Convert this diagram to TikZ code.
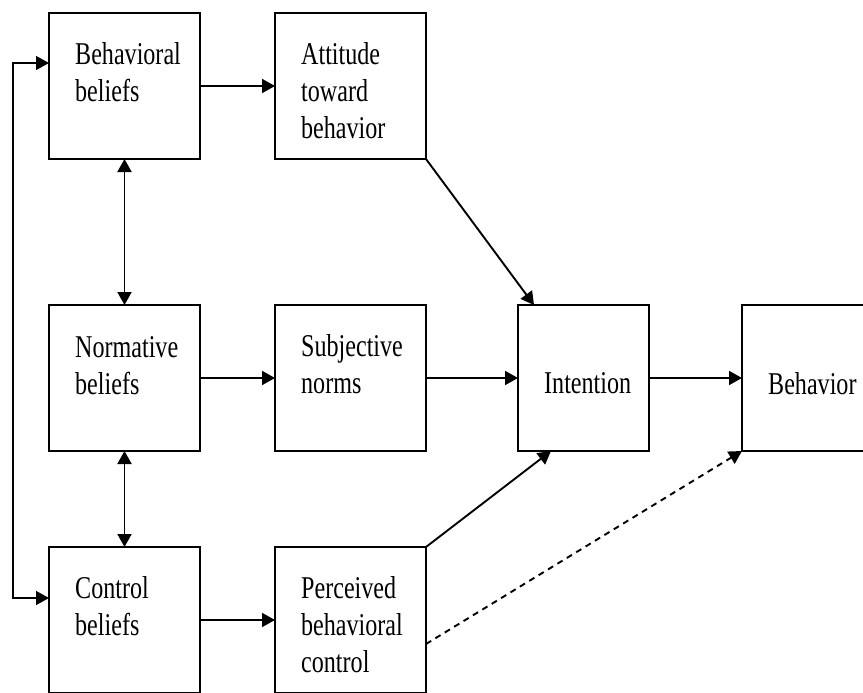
\documentclass[tikz,border=0pt]{standalone}
\usepackage{fontspec}
\usetikzlibrary{arrows.meta,positioning}
\newfontfamily\tpbfont[FakeStretch=0.76]{Liberation Serif}

\tikzset{
  tpbbox/.style={draw,line width=1.9pt,minimum width=151pt,minimum height=146pt,inner sep=0pt,outer sep=0pt},
  tpbtext/.style={anchor=north west,align=left,inner sep=0pt,font=\tpbfont\fontsize{31.7}{37}\selectfont},
  tpbarrow/.style={line width=1.9pt,-{Triangle[length=13pt,width=14pt]}},
  tpbboth/.style={line width=1.9pt,{Triangle[length=13pt,width=14pt]}-{Triangle[length=13pt,width=14pt]}},
}

\begin{document}
\begin{tikzpicture}[x=1pt,y=-1pt]
        \useasboundingbox (0,0) rectangle (863,693);
        \clip (0,0) rectangle (863,693);

        % boxes
        \node[tpbbox,anchor=north west] (bb) at (49,13) {};
        \node[tpbbox,right=75pt of bb] (att) {};
        \node[tpbbox,below=146pt of bb] (nb) {};
        \node[tpbbox,right=75pt of nb] (sn) {};
        \node[tpbbox,minimum width=131pt,right=92pt of sn] (int) {};
        \node[tpbbox,minimum width=140pt,right=93pt of int] (beh) {};
        \node[tpbbox,below=96pt of nb] (cb) {};
        \node[tpbbox,right=75pt of cb] (pbc) {};

        % texts
        \node[tpbtext] (bbt) at ([shift={(26pt,-29.5pt)}]bb.north west) {Behavioral\\beliefs};
        \node[tpbtext] (attt) at ([shift={(26pt,-29.5pt)}]att.north west) {Attitude\\toward\\behavior};
        \node[tpbtext] (nbt) at ([shift={(26pt,-31pt)}]nb.north west) {Normative\\beliefs};
        \node[tpbtext] (snt) at ([shift={(26pt,-29.5pt)}]sn.north west) {Subjective\\norms};
        \node[tpbtext,anchor=base west] (intt) at ([shift={(26pt,-15.5pt)}]int.west) {Intention};
        \node[tpbtext,anchor=base west] (beht) at ([shift={(26pt,-16pt)}]beh.west) {Behavior};
        \node[tpbtext] (cbt) at ([shift={(26pt,-29.5pt)}]cb.north west) {Control\\beliefs};
        \node[tpbtext] (pbct) at ([shift={(26pt,-29.5pt)}]pbc.north west) {Perceived\\behavioral\\control};

        % arrows
        \draw[tpbarrow] (bb) -- (att);
        \draw[tpbarrow] (nb) -- (sn);
        \draw[tpbarrow] (cb) -- (pbc);
        \draw[tpbarrow] (sn) -- (int);
        \draw[tpbarrow] (int) -- (beh);
        \draw[tpbarrow] (att.south east) -- ([xshift=16pt]int.north west);
        \draw[tpbarrow] (pbc.north east) -- ([xshift=33pt]int.south west);
        \draw[tpbarrow,dash pattern=on 6pt off 5pt] ([yshift=-24pt]pbc.east) -- (beh.south west);
        \draw[tpbboth] (bb) -- (nb);
        \draw[tpbboth] (nb) -- (cb);
        \draw[tpbboth,line width=1.4pt] ([yshift=23pt]bb.west) -- ++(-36,0) |- ([yshift=22pt]cb.west);
    \end{tikzpicture}
\end{document}
